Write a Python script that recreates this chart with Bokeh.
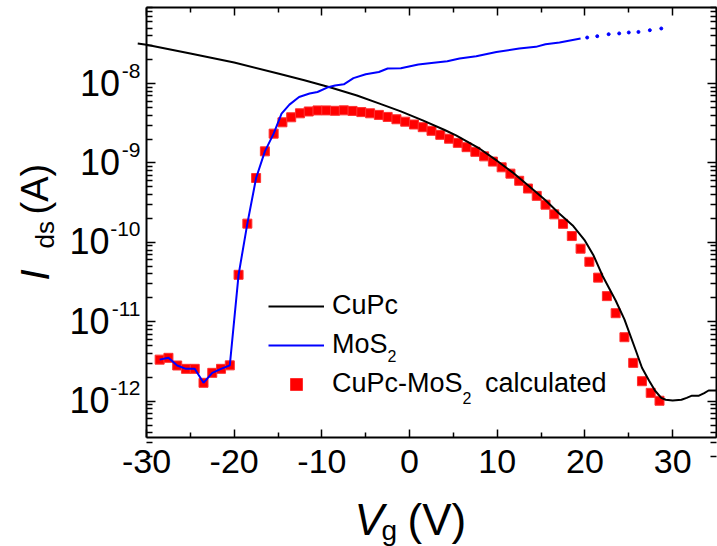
import numpy as np
from bokeh.plotting import figure
from bokeh.models import (Range1d, LogAxis, LinearAxis, FixedTicker, Label, LabelSet,
                          Legend, LegendItem, ColumnDataSource)
from bokeh.core.properties import value
from bokeh.embed import file_html
from bokeh.resources import INLINE

# ---------------- data ----------------
vg_calc = [-28.5, -27.5, -26.5, -25.5, -24.5, -23.5, -22.5, -21.5, -20.5, -19.5,
           -18.5, -17.5, -16.5, -15.5, -14.5, -13.5, -12.5, -11.5, -10.5, -9.5,
           -8.5, -7.5, -6.5, -5.5, -4.5, -3.5, -2.5, -1.5, -0.5, 0.5,
           1.5, 2.5, 3.5, 4.5, 5.5, 6.5, 7.5, 8.5, 9.5, 10.5,
           11.5, 12.5, 13.5, 14.5, 15.5, 16.5, 17.5, 18.5, 19.5, 20.5,
           21.5, 22.5, 23.5, 24.5, 25.5, 26.5, 27.5, 28.5]
ids_calc = [3.33e-12, 3.51e-12, 2.81e-12, 2.55e-12, 2.55e-12, 1.70e-12, 2.27e-12, 2.55e-12, 2.82e-12, 3.90e-11,
            1.72e-10, 6.46e-10, 1.40e-9, 2.34e-9, 3.25e-9, 3.76e-9, 4.22e-9, 4.45e-9, 4.59e-9, 4.59e-9,
            4.54e-9, 4.60e-9, 4.52e-9, 4.37e-9, 4.22e-9, 4.03e-9, 3.80e-9, 3.55e-9, 3.31e-9, 3.05e-9,
            2.82e-9, 2.54e-9, 2.26e-9, 2.02e-9, 1.79e-9, 1.58e-9, 1.38e-9, 1.21e-9, 1.04e-9, 8.81e-10,
            7.33e-10, 5.96e-10, 4.76e-10, 3.85e-10, 2.98e-10, 2.25e-10, 1.71e-10, 1.20e-10, 8.32e-11, 5.69e-11,
            3.59e-11, 2.10e-11, 1.28e-11, 6.38e-12, 3.03e-12, 1.78e-12, 1.27e-12, 1.01e-12]

vg_cupc = [-31, -30, -25, -20, -15, -12, -9, -6, -3.5, -1, 1.5, 4, 5.3, 8, 10, 11.7, 13.5,
           15.5, 17, 18.6, 20, 21, 22, 23.5, 24.5, 25.8, 26.5, 27.3, 28, 28.7, 29.2,
           30, 31, 31.6, 32.2, 33, 33.6, 34.1, 35]
ids_cupc = [3.19e-8, 3.09e-8, 2.39e-8, 1.84e-8, 1.34e-8, 1.10e-8, 8.91e-9, 7.08e-9, 5.62e-9, 4.47e-9, 3.44e-9,
            2.60e-9, 2.23e-9, 1.51e-9, 1.06e-9, 7.67e-10, 5.25e-10, 3.39e-10, 2.34e-10, 1.63e-10, 1.05e-10,
            6.76e-11, 3.80e-11, 1.85e-11, 1.07e-11, 4.34e-12, 2.63e-12, 1.82e-12, 1.35e-12, 1.10e-12, 1.04e-12,
            1.02e-12, 1.04e-12, 1.10e-12, 1.17e-12, 1.17e-12, 1.26e-12, 1.36e-12, 1.36e-12]

vg_mos2 = [-28.5, -27.5, -26.5, -25.5, -24.5, -23.5, -22.5, -21.5, -20.5, -19.5,
           -18.5, -17.5, -16.5, -15.5, -14.6, -13.7, -12.6, -11.4, -10.5, -9.4,
           -8.5, -7.5, -6.4, -5.0, -3.5, -2.5, -1.0, 1.0, 2.5, 4.3,
           5.7, 7.6, 9.9, 12.5, 14.4, 15.5, 17.1, 19.5]
ids_mos2 = [3.33e-12, 3.51e-12, 2.81e-12, 2.55e-12, 2.55e-12, 1.70e-12, 2.27e-12, 2.55e-12, 2.82e-12, 3.90e-11,
            1.72e-10, 6.46e-10, 1.40e-9, 2.34e-9, 4.19e-9, 5.43e-9, 6.78e-9, 7.48e-9, 7.83e-9, 8.91e-9,
            9.44e-9, 9.79e-9, 1.17e-8, 1.31e-8, 1.40e-8, 1.55e-8, 1.56e-8, 1.74e-8, 1.82e-8, 1.91e-8,
            2.07e-8, 2.21e-8, 2.50e-8, 2.76e-8, 2.90e-8, 3.13e-8, 3.29e-8, 3.69e-8]

vg_mos2_tail = [20.25, 21.4, 22.7, 23.9, 25.0, 26.1, 27.4, 28.7]
ids_mos2_tail = [3.80e-8, 3.95e-8, 4.19e-8, 4.28e-8, 4.40e-8, 4.47e-8, 4.70e-8, 4.94e-8]

x_ticks = [-30, -20, -10, 0, 10, 20, 30]
x_tick_labels = ["-30", "-20", "-10", "0", "10", "20", "30"]
x_minor = [-25, -15, -5, 5, 15, 25, 35]
y_ticks = [1e-12, 1e-11, 1e-10, 1e-9, 1e-8]
y_tick_expo = ["-12", "-11", "-10", "-9", "-8"]
y_minor = [m * 10.0 ** e for e in range(-13, -7) for m in range(2, 10)]

X_MIN, X_MAX = -30, 35
Y_MIN, Y_MAX = 3.48e-13, 9.08e-8

# ---------------- layout geometry (pixels in the canvas) ----------------
W, H = 717, 546
BOX_L, BOX_R, BOX_T, BOX_B = 146, 716, 7, 437
FONT = "Liberation Sans"
BASE_PX = 36
EXPO_PX = 21
BASELINE_FIX = 0.3   # Label text sits ~0.3 em below the requested baseline

# the frame spans the whole canvas; the box is drawn by axes at fixed locations
xpp = (X_MAX - X_MIN) / (BOX_R - BOX_L)
lmin, lmax = np.log10(Y_MIN), np.log10(Y_MAX)
lpp = (lmax - lmin) / (BOX_B - BOX_T)
x_rng = Range1d(X_MIN - BOX_L * xpp, X_MAX + (W - BOX_R) * xpp)
y_rng = Range1d(10 ** (lmin - (H - BOX_B) * lpp), 10 ** (lmax + BOX_T * lpp))

p = figure(width=W, height=H, x_range=x_rng, y_range=y_rng, y_axis_type="log",
           output_backend="svg", toolbar_location=None,
           min_border=0, min_border_left=0, min_border_right=0,
           min_border_top=0, min_border_bottom=0)
p.grid.visible = False
p.outline_line_color = None
p.background_fill_color = "white"
p.border_fill_color = "white"

bottom_axis = p.below[0]
left_axis = p.left[0]
top_axis = LinearAxis()
right_axis = LogAxis()
p.add_layout(top_axis, "above")
p.add_layout(right_axis, "right")

bottom_axis.fixed_location = Y_MIN
top_axis.fixed_location = Y_MAX
left_axis.fixed_location = X_MIN
right_axis.fixed_location = X_MAX

for ax in [bottom_axis, top_axis]:
    ax.ticker = FixedTicker(ticks=x_ticks, minor_ticks=x_minor)
    ax.bounds = (X_MIN, X_MAX)
for ax in [left_axis, right_axis]:
    ax.ticker = FixedTicker(ticks=y_ticks, minor_ticks=y_minor)
    ax.bounds = (Y_MIN, Y_MAX)

for ax in [bottom_axis, top_axis, left_axis, right_axis]:
    ax.axis_line_width = 2
    ax.axis_line_color = "black"
    ax.major_tick_in = 8
    ax.major_tick_out = 0
    ax.minor_tick_in = 5
    ax.minor_tick_out = 0
    ax.major_tick_line_width = 1.5
    ax.minor_tick_line_width = 1.5
    ax.major_tick_line_color = "black"
    ax.minor_tick_line_color = "black"

for ax in [left_axis, right_axis]:
    ax.major_tick_in = 9
    ax.minor_tick_in = 6

for ax in [top_axis, right_axis, left_axis]:
    ax.major_label_text_font_size = "1px"
    ax.major_label_text_alpha = 0
    ax.major_label_standoff = 0

bottom_axis.major_label_overrides = {t: s for t, s in zip(x_ticks, x_tick_labels)}
bottom_axis.major_label_text_font = FONT
bottom_axis.major_label_text_font_size = "34px"
bottom_axis.major_label_text_color = "black"
bottom_axis.major_label_standoff = 12

# y tick labels: base "10" with a raised exponent
expo_w = [len(s) * 0.49 * EXPO_PX for s in y_tick_expo]
ylab_src = ColumnDataSource(dict(
    x=[X_MIN] * len(y_ticks), y=y_ticks, expo=y_tick_expo,
    base=["10"] * len(y_ticks),
    base_off=[-6 - w for w in expo_w]))
p.add_layout(LabelSet(x="x", y="y", text="expo", source=ylab_src, x_offset=-6, y_offset=6,
                      text_align="right", text_baseline="alphabetic", text_font=value(FONT),
                      text_font_size=value(f"{EXPO_PX}px"), text_color="black"))
p.add_layout(LabelSet(x="x", y="y", text="base", source=ylab_src, x_offset="base_off",
                      y_offset=-12, text_align="right", text_baseline="alphabetic",
                      text_font=value(FONT), text_font_size=value(f"{BASE_PX}px"),
                      text_color="black"))

calc = p.scatter(vg_calc, ids_calc, marker="square", size=9, fill_color="#ff0000",
                 line_color="#ff3030", line_width=1)
cupc = p.line(vg_cupc, ids_cupc, line_color="black", line_width=2)
mos2 = p.line(vg_mos2, ids_mos2, line_color="#0000ff", line_width=2)
p.scatter(vg_mos2_tail, ids_mos2_tail, marker="circle", size=3, fill_color="#0000ff",
          line_color="#0000ff")

legend = Legend(items=[LegendItem(label="CuPc", renderers=[cupc]),
                       LegendItem(label="MoS", renderers=[mos2]),
                       LegendItem(label="CuPc-MoS   calculated", renderers=[calc])],
                location=(268, 147), padding=0, margin=0, spacing=8,
                glyph_width=56, glyph_height=30, label_height=30, label_standoff=8,
                label_text_font=FONT, label_text_font_size="27px",
                label_text_color="black",
                border_line_color=None, background_fill_alpha=0)
p.add_layout(legend, "center")

def lab(text, x, y, size, style="normal", rotated=False):
    # x, y: wanted baseline start, canvas pixels from the bottom-left corner
    fix = BASELINE_FIX * size
    if rotated:
        x, angle = x - fix, np.pi / 2
    else:
        y, angle = y + fix, 0.0
    p.add_layout(Label(x=x, y=y, x_units="screen", y_units="screen", text=text,
                       text_font=FONT, text_font_size=f"{size}px", text_font_style=style,
                       text_color="black", angle=angle, text_baseline="alphabetic",
                       text_align="left"))

# legend subscripts
lab("2", 387, 186, 16)
lab("2", 462, 144, 16)

# x axis title
lab("V", 354, 14, 44, "italic")
lab("g", 381, 8, 28)
lab("(V)", 407, 14, 44)

# y axis title
lab("I", 46, 266, 40, "italic", rotated=True)
lab("ds", 52, 298, 26, rotated=True)
lab("(A)", 46, 332, 38, rotated=True)

open("out.html", "w").write(file_html(p, INLINE))
